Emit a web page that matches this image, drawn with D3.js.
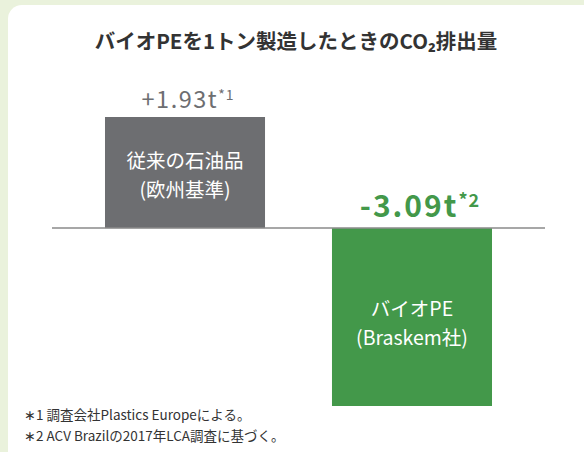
<!DOCTYPE html>
<html><head><meta charset="utf-8">
<script src="https://cdn.jsdelivr.net/npm/d3@7"></script>
<style>
html,body{margin:0;padding:0;background:#eaf2dc;}
svg{display:block;}
text{font-family:"Noto Sans CJK JP","Noto Sans",sans-serif;}
</style></head>
<body>
<svg id="c" width="584" height="452"></svg>
<script>
const categories = ["従来の石油品", "バイオPE"];
const labelLine1 = ["従来の石油品", "バイオPE"];
const labelLine2 = ["(欧州基準)", "(Braskem社)"];
const values = [1.93, -3.09];
const valueText = ["+1.93t", "-3.09t"];
const noteMarks = ["*1", "*2"];
const title = "バイオPEを1トン製造したときのCO₂排出量";
const footnotes = ["∗1 調査会社Plastics Europeによる。", "∗2 ACV Brazilの2017年LCA調査に基づく。"];

const svg = d3.select("#c");
svg.append("rect").attr("x",8).attr("y",5).attr("width",600).attr("height",470)
  .attr("rx",14).attr("fill","#fff");

svg.append("text").attr("x",296).attr("y",49).attr("text-anchor","middle")
  .attr("font-size",20.5).attr("font-weight",700).attr("fill","#333")
  .text(title);

const x = d3.scaleBand().domain(categories).range([36.9,560.1]).paddingInner(0.295).paddingOuter(0.3);
const y = d3.scaleLinear().domain([-3.09,1.93]).range([406,117]);
const colors = ["#6d6e71","#43984a"];
const cx = i => x(categories[i]) + x.bandwidth()/2;

svg.selectAll("rect.bar").data(values).join("rect").attr("class","bar")
  .attr("x",(d,i)=>x(categories[i]))
  .attr("width",x.bandwidth())
  .attr("y",d=>d>0?y(d):y(0))
  .attr("height",d=>Math.abs(y(d)-y(0)))
  .attr("fill",(d,i)=>colors[i]);

svg.append("line").attr("x1",52).attr("x2",545).attr("y1",y(0)).attr("y2",y(0))
  .attr("stroke","#8a8a8a").attr("stroke-width",1.5);

// value labels
const vl = svg.selectAll("text.val").data(values).join("text").attr("class","val")
  .attr("x",(d,i)=> cx(i) + (i===0?3:8))
  .attr("y",(d,i)=> i===0 ? y(d)-9 : y(0)-11)
  .attr("text-anchor","middle")
  .attr("fill",(d,i)=> i===0 ? "#6d6e71" : "#43984a")
  .attr("font-size",(d,i)=> i===0 ? 23.5 : 30)
  .attr("letter-spacing",(d,i)=> i===0 ? 1.5 : 2)
  .attr("font-family",'"Noto Sans",sans-serif')
  .attr("font-weight",(d,i)=> i===0 ? 400 : 700);
vl.append("tspan").text((d,i)=>valueText[i]);
vl.append("tspan").attr("font-size",(d,i)=> i===0?14:18).attr("dy",(d,i)=> i===0?-8:-10).attr("letter-spacing",1).text((d,i)=>noteMarks[i]);

// bar inner labels (two lines)
const bl = svg.selectAll("text.bl").data(values).join("text").attr("class","bl")
  .attr("text-anchor","middle").attr("fill","#fff").attr("font-size",19.5);
bl.append("tspan").attr("x",(d,i)=>cx(i)).attr("y",(d,i)=> i===0 ? 168 : 316)
  .text((d,i)=>labelLine1[i]);
bl.append("tspan").attr("x",(d,i)=>cx(i)).attr("y",(d,i)=> i===0 ? 197 : 345)
  .text((d,i)=>labelLine2[i]);

const fn = svg.append("text").attr("font-size",13.5).attr("fill","#333");
fn.selectAll("tspan").data(footnotes).join("tspan")
  .attr("x",24).attr("y",(d,i)=>420+i*21)
  .text(d=>d);
</script>
</body></html>
